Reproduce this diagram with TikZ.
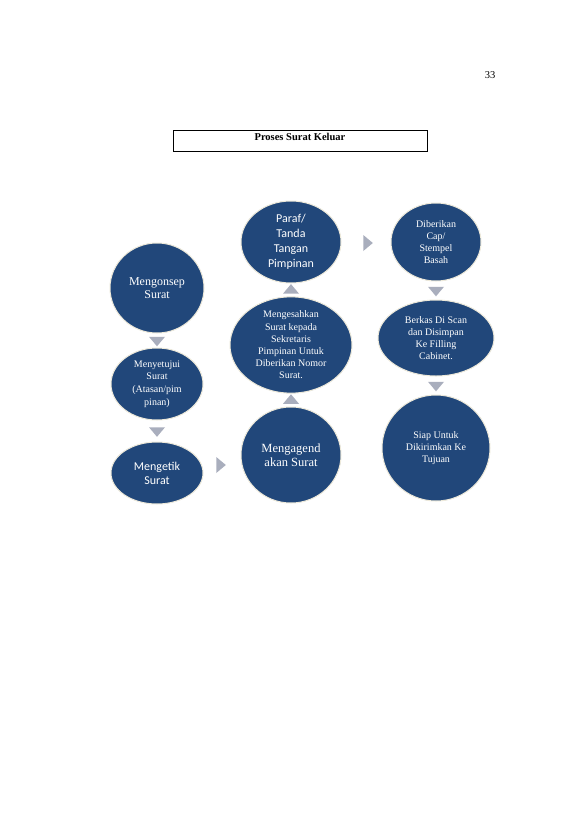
\documentclass[tikz,border=0pt]{standalone}
\usepackage{fontspec}
\setmainfont{Liberation Serif}
\newfontfamily\calib{Carlito}
\usetikzlibrary{shapes.geometric,calc}
\definecolor{bubble}{HTML}{21477A}
\definecolor{tri}{HTML}{A9AEBD}
\definecolor{rim}{HTML}{EDE9DA}
\tikzset{
  bub/.style={ellipse, fill=bubble, draw=rim, line width=1pt, inner sep=0pt, text=white, align=center},
  tridown/.style={isosceles triangle, isosceles triangle apex angle=80, shape border rotate=-90, fill=tri, draw=none, minimum width=16pt, minimum height=9pt, inner sep=0pt},
  triup/.style={tridown, shape border rotate=90},
  triright/.style={tridown, shape border rotate=0, minimum width=16pt, minimum height=9pt},
}
\begin{document}
\begin{tikzpicture}[x=1pt,y=-1pt]
\fill[white] (0,0) rectangle (579,819);
\useasboundingbox (0,0) rectangle (579,819);
\node[font={\fontsize{10.5}{12}\selectfont}] (pg) at (490,75) {33};
\node[draw=black, line width=0.8pt, minimum width=254pt, minimum height=21pt, inner sep=0pt] (title) at (300,140.5) {};
\node[font={\fontsize{10.5}{12}\selectfont\bfseries}] (tt) at (300,137) {Proses Surat Keluar};
% column 1
\node[bub, minimum width=94pt, minimum height=90pt, font={\fontsize{12}{13.5}\selectfont}] (a1) at (157,288) {Mengonsep\\Surat};
\node[bub, minimum width=92pt, minimum height=72pt, font={\fontsize{10}{12.8}\selectfont}] (a2) at (157,384) {Menyetujui\\Surat\\(Atasan/pim\\pinan)};
\node[bub, minimum width=92pt, minimum height=62pt, font={\calib\fontsize{12}{14}\selectfont}] (a3) at (157,473) {Mengetik\\Surat};
% column 2
\node[bub, minimum width=100pt, minimum height=96pt, font={\fontsize{12.5}{14}\selectfont}] (b1) at (291,455) {Mengagend\\akan Surat};
\node[bub, minimum width=122pt, minimum height=80pt, font={\fontsize{10}{12.2}\selectfont}] (b2) at (291,345) {Mengesahkan\\Surat kepada\\Sekretaris\\Pimpinan Untuk\\Diberikan Nomor\\Surat.};
\node[bub, minimum width=100pt, minimum height=82pt, font={\calib\fontsize{12}{15}\selectfont}] (b3) at (291,242) {Paraf/\\Tanda\\Tangan\\Pimpinan};
% column 3
\node[bub, minimum width=90pt, minimum height=78pt, font={\fontsize{10}{12}\selectfont}] (c1) at (436,242) {Diberikan\\Cap/\\Stempel\\Basah};
\node[bub, minimum width=116pt, minimum height=76pt, font={\fontsize{10}{12}\selectfont}] (c2) at (436,338) {Berkas Di Scan\\dan Disimpan\\Ke Filling\\Cabinet.};
\node[bub, minimum width=108pt, minimum height=106pt, font={\fontsize{10}{12}\selectfont}] (c3) at (436,448) {Siap Untuk\\Dikirimkan Ke\\Tujuan};
% arrows
\node[tridown] (t1) at ($(a1.south)!0.5!(a2.north)$) {};
\node[tridown] (t2) at ($(a2.south)!0.5!(a3.north)$) {};
\node[triright] (t3) at (220,465) {};
\node[triup] (t4) at ($(b1.north)!0.5!(b2.south)$) {};
\node[triup] (t5) at ($(b2.north)!0.5!(b3.south)$) {};
\node[triright] (t6) at (367,243) {};
\node[tridown] (t7) at ($(c1.south)!0.5!(c2.north)$) {};
\node[tridown] (t8) at ($(c2.south)!0.5!(c3.north)$) {};
\end{tikzpicture}
\end{document}
